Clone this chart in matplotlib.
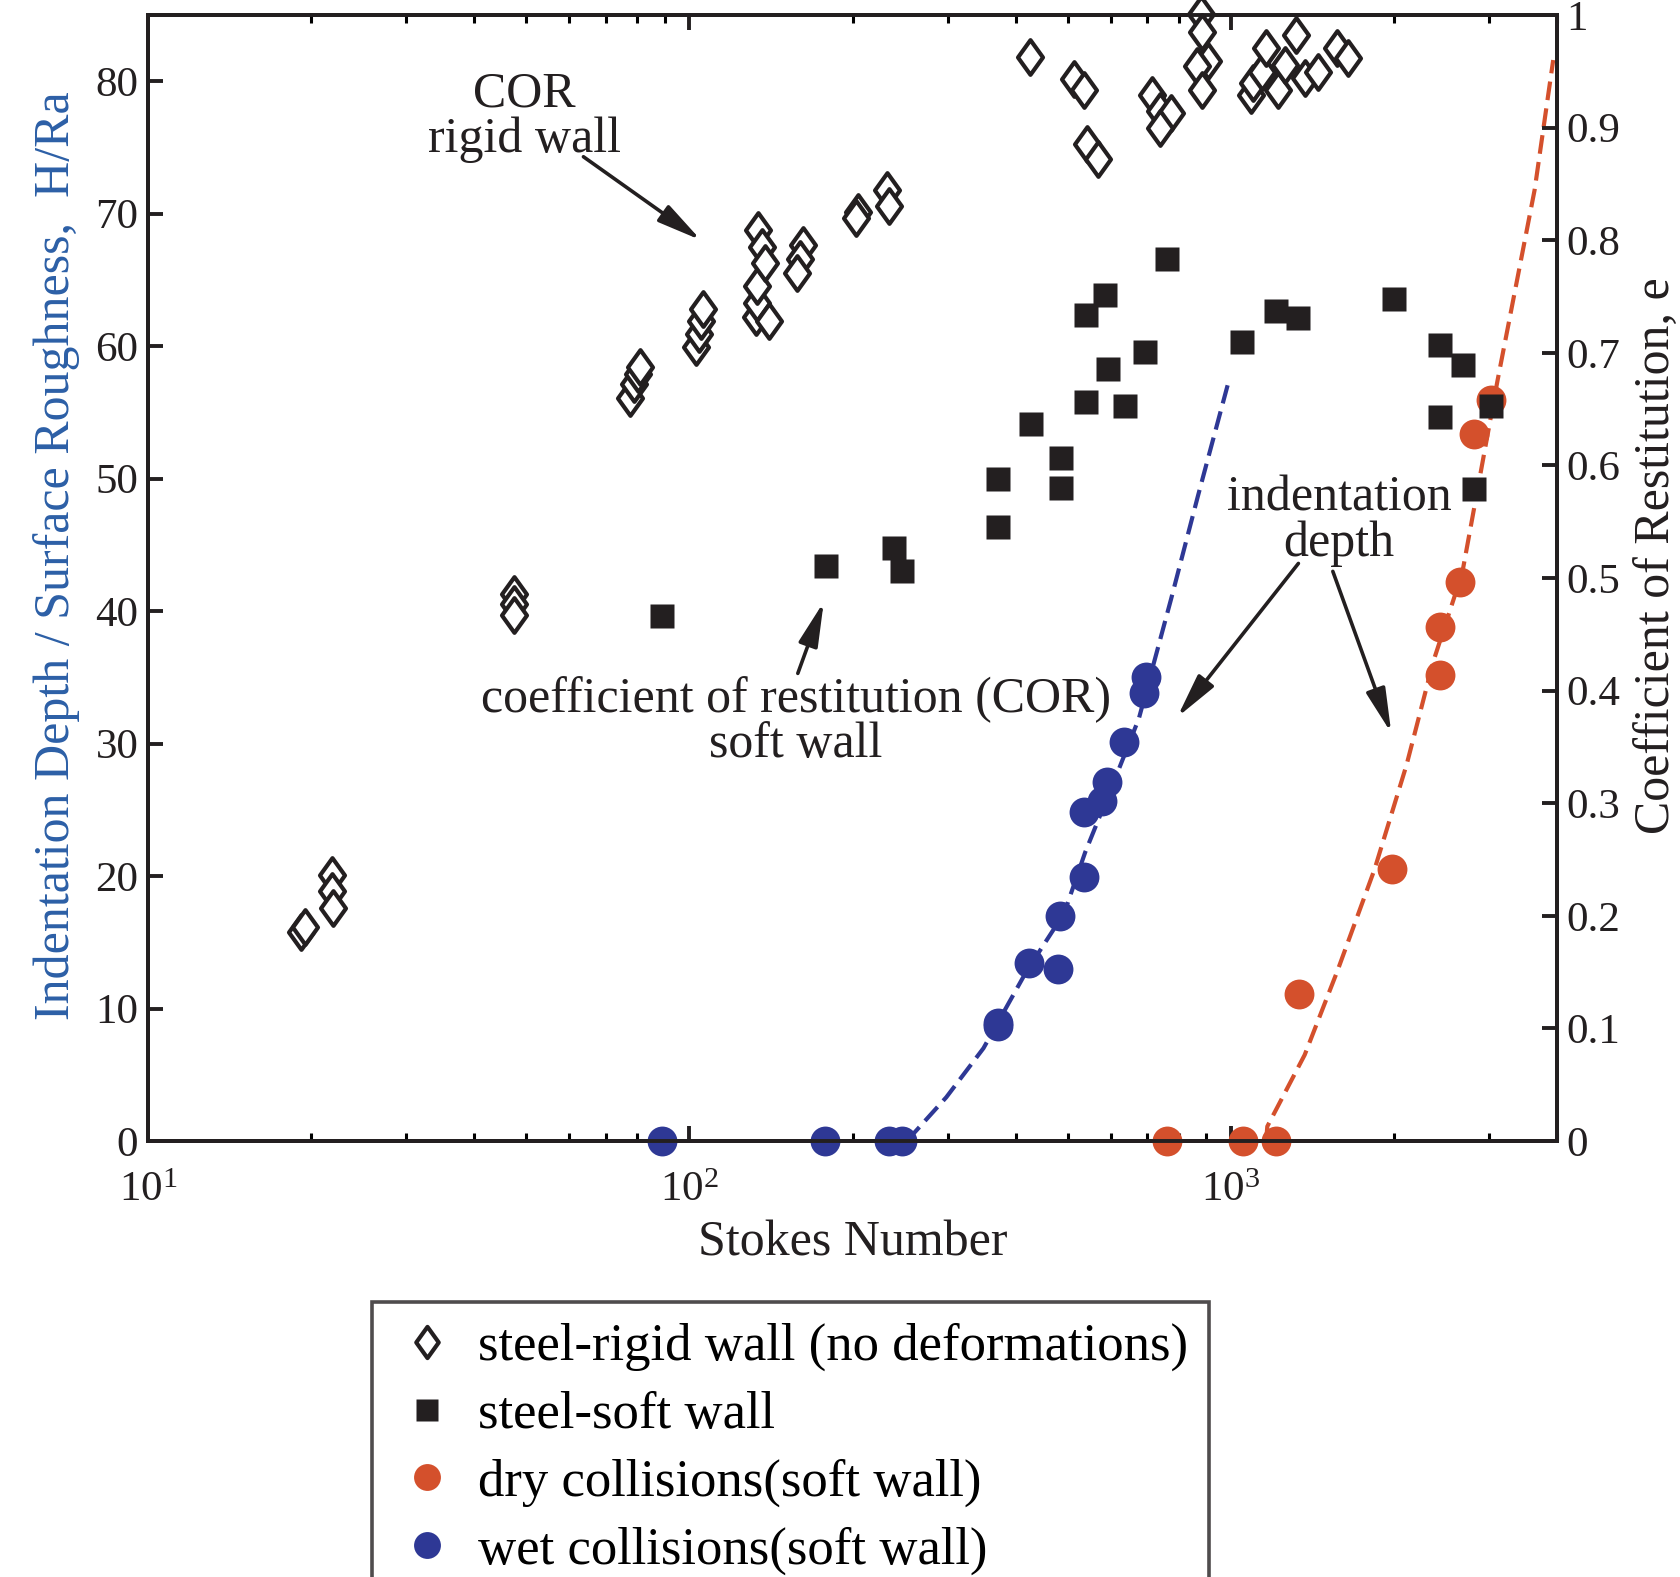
import numpy as np
import matplotlib
matplotlib.use("Agg")
import matplotlib.pyplot as plt
from matplotlib.path import Path
from matplotlib.ticker import LogLocator, FixedLocator, NullFormatter, FuncFormatter

plt.rcParams['font.family'] = ['Liberation Serif', 'DejaVu Serif']
plt.rcParams['mathtext.fontset'] = 'custom'
plt.rcParams['mathtext.rm'] = 'Liberation Serif'
plt.rcParams['mathtext.it'] = 'Liberation Serif:italic'

# ---------------- data ----------------
# steel - rigid wall (COR, right axis)
rigid_st = [19.2, 19.5, 21.9, 21.9, 22.0, 47.4, 47.4, 47.4, 77.8, 78.9, 80.3, 81.0,
            103, 104, 105, 106, 132.5, 133, 133.5, 134, 136, 138, 140, 161.8, 160, 158,
            205, 203, 232, 234, 426, 513, 536, 541, 569, 714, 738, 775, 740,
            881, 883, 908, 865, 885, 1087, 1100, 1140, 1162, 1222, 1260, 1318, 1368,
            1445, 1571, 1642]
rigid_e = [0.186, 0.190, 0.236, 0.222, 0.207, 0.486, 0.477, 0.467, 0.660, 0.672, 0.681, 0.687,
           0.705, 0.717, 0.728, 0.739, 0.732, 0.744, 0.759, 0.809, 0.794, 0.780, 0.728,
           0.796, 0.783, 0.771, 0.825, 0.820, 0.845, 0.830, 0.963, 0.943, 0.933, 0.885,
           0.872, 0.929, 0.915, 0.913, 0.900, 1.001, 0.985, 0.959, 0.955, 0.933,
           0.929, 0.940, 0.949, 0.971, 0.933, 0.956, 0.982, 0.944, 0.949, 0.971, 0.962]

# steel - soft wall (COR, right axis)
soft_st = [89, 179, 239, 247, 372, 372, 427, 485, 485, 539, 539, 584, 593, 637, 695,
           761, 1047, 1211, 1327, 1997, 2427, 2427, 2685, 2811, 3022]
soft_e = [0.466, 0.511, 0.527, 0.506, 0.588, 0.545, 0.637, 0.607, 0.580, 0.734, 0.656,
          0.751, 0.686, 0.653, 0.701, 0.783, 0.710, 0.737, 0.731, 0.748, 0.707, 0.643,
          0.689, 0.579, 0.653]

# wet collisions, indentation depth H/Ra (left axis)
wet_st = [89, 178, 234, 247, 371, 372, 423, 479, 483, 536, 536, 579, 590, 635, 691, 698]
wet_h = [0, 0, 0, 0, 8.9, 8.7, 13.4, 13.0, 17.0, 19.9, 24.8, 25.7, 27.1, 30.1, 33.8, 35.0]

# dry collisions, indentation depth H/Ra (left axis)
dry_st = [761, 1051, 1211, 1333, 1986, 2427, 2427, 2650, 2811, 3020]
dry_h = [0, 0, 0, 11.1, 20.5, 35.2, 38.8, 42.2, 53.4, 55.9]

# dashed fit curves
wet_fit_st = [252, 298, 349, 419, 492, 538, 617, 676, 775, 869, 991]
wet_fit_h = [0.0, 3.3, 7.0, 12.8, 17.2, 21.8, 27.8, 31.9, 40.9, 48.7, 57.4]
dry_fit_st = [1161, 1167, 1368, 1571, 1841, 2110, 2364, 2674, 3106, 3637, 3936]
dry_fit_h = [0.0, 1.1, 6.5, 12.8, 20.5, 28.4, 36.2, 42.9, 57.4, 71.8, 81.6]

left_ticks = [0, 10, 20, 30, 40, 50, 60, 70, 80]
right_ticks = [0, 0.1, 0.2, 0.3, 0.4, 0.5, 0.6, 0.7, 0.8, 0.9, 1.0]

legend_labels = ["steel-rigid wall (no deformations)", "steel-soft wall",
                 "dry collisions(soft wall)", "wet collisions(soft wall)"]

BLUE = '#2e3895'
ORANGE = '#d4502c'
LBLUE = '#2c5fa6'
BLACK = '#231f20'

# ---------------- figure ----------------
fig = plt.figure(figsize=(16.8, 15.77), dpi=100)
W, H = 1680, 1577
L, R, T, B = 148, 1557, 15, 1141
ax = fig.add_axes([L / W, 1 - B / H, (R - L) / W, (B - T) / H])
ax2 = ax.twinx()

ax.set_xscale('log')
ax.set_xlim(10, 4000)
ax.set_ylim(0, 85)
ax2.set_ylim(0, 1)

diamond = Path([(0, 1), (0.72, 0), (0, -1), (-0.72, 0), (0, 1)],
               [Path.MOVETO, Path.LINETO, Path.LINETO, Path.LINETO, Path.CLOSEPOLY])

ax.plot(wet_fit_st, wet_fit_h, color=BLUE, lw=3.0, dashes=(4.5, 2), zorder=2)
ax.plot(dry_fit_st, dry_fit_h, color=ORANGE, lw=3.0, dashes=(4.5, 2), zorder=2)
ax.plot(wet_st, wet_h, 'o', color=BLUE, ms=21.5, mec='none', zorder=3, clip_on=False)
ax.plot(dry_st, dry_h, 'o', color=ORANGE, ms=21.5, mec='none', zorder=3, clip_on=False)

h1, = ax2.plot(rigid_st, rigid_e, ls='none', marker=diamond, ms=25, mfc='white',
               mec=BLACK, mew=3.0, clip_on=False)
h2, = ax2.plot(soft_st, soft_e, 's', color=BLACK, ms=17.5, mec='none')
h3, = ax2.plot([], [], 'o', color=ORANGE, ms=21.5, mec='none')
h4, = ax2.plot([], [], 'o', color=BLUE, ms=21.5, mec='none')

# ticks
for a in (ax, ax2):
    for s in a.spines.values():
        s.set_linewidth(2.8)
        s.set_color(BLACK)

ax.xaxis.set_major_locator(LogLocator(base=10, numticks=10))
ax.xaxis.set_minor_locator(LogLocator(base=10, subs=np.arange(2, 10), numticks=20))
ax.xaxis.set_minor_formatter(NullFormatter())
ax.tick_params(axis='x', which='major', direction='in', length=11, width=2.8,
               top=True, labelsize=31, pad=22, colors=BLACK)
ax.tick_params(axis='x', which='minor', direction='in', length=6, width=2.2, top=True)
ax.yaxis.set_major_locator(FixedLocator(left_ticks))
ax.tick_params(axis='y', which='major', direction='in', length=11, width=2.8,
               labelsize=31, pad=7, colors=BLACK)
ax2.yaxis.set_major_locator(FixedLocator(right_ticks))
ax2.yaxis.set_major_formatter(FuncFormatter(lambda v, p: '%g' % v))
ax2.tick_params(axis='y', which='major', direction='in', length=11, width=2.8,
                labelsize=31, pad=7, colors=BLACK)

ax.set_xlabel('Stokes Number', fontsize=36, color=BLACK)
ax.xaxis.set_label_coords(0.5, (B - 1243) / (B - T))
ax.xaxis.label.set_va('center')
ax.set_ylabel('Indentation Depth / Surface Roughness,  H/Ra', fontsize=36, color=LBLUE)
ax.yaxis.set_label_coords((57 - L) / (R - L), (B - 556) / (B - T))
ax.yaxis.label.set_va('center')
ax2.set_ylabel('Coefficient of Restitution, e', fontsize=36, color=BLACK)
ax2.yaxis.set_label_coords((1658 - L) / (R - L), (B - 556) / (B - T))
ax2.yaxis.label.set_va('center')

# annotations (in left-axis data coordinates)
arrowprops = dict(arrowstyle='-|>,head_length=0.9,head_width=0.2', color=BLACK,
                  lw=2.6, shrinkA=0, shrinkB=0, mutation_scale=30)
ax.text(49.6, 77.3, 'COR\nrigid wall', fontsize=36, ha='center', va='center',
        linespacing=0.95, color=BLACK, zorder=5)
ax.annotate('', xy=(105, 68.0), xytext=(63.7, 74.3), arrowprops=arrowprops)
ax.text(157, 31.6, 'coefficient of restitution (COR)\nsoft wall', fontsize=36,
        ha='center', va='center', linespacing=0.95, color=BLACK, zorder=5)
ax.annotate('', xy=(177, 40.7), xytext=(158.5, 35.3), arrowprops=arrowprops)
ax.text(1585, 46.8, 'indentation\ndepth', fontsize=36, ha='center', va='center',
        linespacing=0.95, color=BLACK, zorder=5)
ax.annotate('', xy=(796, 32.0), xytext=(1332, 43.6), arrowprops=arrowprops)
ax.annotate('', xy=(1977, 30.8), xytext=(1542, 43.0), arrowprops=arrowprops)

leg = fig.legend([h1, h2, h3, h4], legend_labels, loc='upper left',
                 bbox_to_anchor=(372 / W, 1 - 1302 / H), fontsize=38,
                 frameon=True, fancybox=False, edgecolor=BLACK, handlelength=1.3,
                 handletextpad=0.31, borderpad=0.4, labelspacing=0.37,
                 borderaxespad=0, markerscale=0.9)
leg.get_frame().set_linewidth(2.6)

fig.savefig('out.png', dpi=100)
